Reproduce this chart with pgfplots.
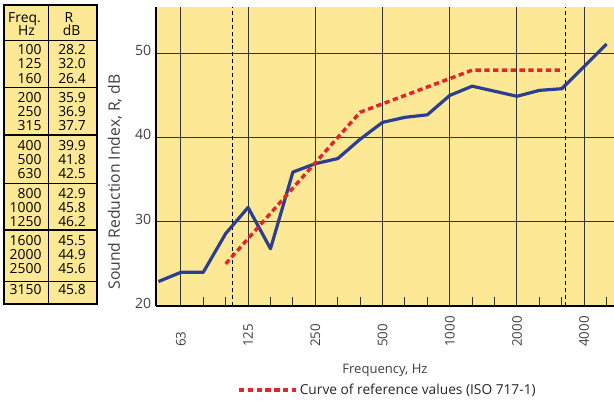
\documentclass[border=0pt]{standalone}
\usepackage{fontspec}
\setmainfont{Open Sans}
\usepackage{pgfplots}
\pgfplotsset{compat=1.18}

\definecolor{panel}{HTML}{FDE995}
\definecolor{rline}{HTML}{2B3E90}
\definecolor{refred}{HTML}{E0262B}
\definecolor{gridc}{HTML}{333333}

% third-octave bands as index: 50 Hz = 0, 63 Hz = 1, ... 5000 Hz = 20
\pgfplotstableread{
idx R
0  22.9
1  24.0
2  24.0
3  28.6
4  31.7
5  26.8
6  35.9
7  36.9
8  37.5
9  39.8
10 41.8
11 42.4
12 42.7
13 45.0
14 46.1
15 45.5
16 44.9
17 45.6
18 45.8
20 51.1
}\measured

\pgfplotstableread{
idx R
3  25
4  28
5  31
6  34
7  37
8  40
9  43
10 44
11 45
12 46
13 47
14 48
15 48
16 48
17 48
18 48
}\reference

\begin{document}
\begin{tikzpicture}

% frequency table on the left, drawn in pixel units
\begin{scope}[x=0.75pt,y=-0.75pt,yshift=301.5pt,font=\fontsize{10.4}{12}\selectfont]
  \fill[panel] (4,5) rectangle (97,304);
  \draw[line width=0.8pt] (4,5) rectangle (97,304);
  \draw[line width=0.8pt] (48.3,5) -- (48.3,304);
  \foreach \yy in {40.7,87.3,135,183.3,230,281.7}
    \draw[line width=0.8pt] (4,\yy) -- (97,\yy);
  \node[anchor=base,inner sep=0pt] at (24.5,23) {Freq.};
  \node[anchor=base,inner sep=0pt] at (26.5,36) {Hz};
  \node[anchor=base,inner sep=0pt] at (69,23) {R};
  \node[anchor=base,inner sep=0pt] at (71.5,36) {dB};
  \foreach \f/\r/\yy in {100/28.2/55,125/32.0/69,160/26.4/83.3,
      200/35.9/102.3,250/36.9/116.7,315/37.7/131,
      400/39.9/150.7,500/41.8/165,630/42.5/179,
      800/42.9/198.3,1000/45.8/212.3,1250/46.2/226.7,
      1600/45.5/246,2000/44.9/260,2500/45.6/273.3,
      3150/45.8/294.3}{
    \node[anchor=base east,inner sep=0pt] at (41.7,\yy) {\f};
    \node[anchor=base east,inner sep=0pt] at (86,\yy) {\r};
  }
\end{scope}

\begin{axis}[
  at={(117pt,72pt)}, anchor=south west,
  scale only axis, width=343.5pt, height=224.25pt,
  xmin=-0.11, xmax=20.33, ymin=20, ymax=55.5,
  axis lines*=left,
  axis line style={line width=1.6pt, black},
  axis background/.style={fill=panel},
  tick align=inside,
  xtick={1,4,7,10,13,16,19},
  xticklabels={63,125,250,500,1000,2000,4000},
  minor xtick={2,3,5,6,8,9,11,12,14,15,17,18,20},
  major tick length=6.75pt, minor tick length=6.75pt,
  xtick style={gridc, line width=0.75pt},
  ytick={20,30,40,50},
  ytick style={draw=none},
  xmajorgrids, ymajorgrids,
  grid style={gridc, line width=0.75pt},
  /pgf/number format/assume math mode=true,
  tick label style={font=\fontsize{10}{12}\selectfont, text=black!75},
  xticklabel style={yshift=-30.75pt, rotate=90, anchor=west, inner sep=0pt},
  yticklabel style={yshift=2pt, font=\fontsize{10.6}{12}\selectfont},
  xlabel={Frequency, Hz},
  xlabel style={at={(axis description cs:0.5,0)}, anchor=center, yshift=-48pt,
    font=\fontsize{9.8}{12}\selectfont, text=black!75},
  ylabel={Sound Reduction Index, R, dB},
  ylabel style={at={(axis description cs:-0.0895,0.415)}, anchor=center,
    font=\fontsize{11.8}{12}\selectfont, text=black!75},
  legend style={at={(axis description cs:0.177,-0.281)}, anchor=west,
    draw=none, fill=none, inner sep=0pt,
    font=\fontsize{10.3}{12}\selectfont,
    nodes={inner sep=1.5pt, text=black!85}},
  legend image code/.code={\draw[#1] (0pt,0pt) -- (42.75pt,0pt);},
]
  \addplot[black, line width=0.6pt, dash pattern=on 3pt off 2.2pt, forget plot]
    coordinates {(3.3,20) (3.3,55.5)};
  \addplot[black, line width=0.6pt, dash pattern=on 3pt off 2.2pt, forget plot]
    coordinates {(18.15,20) (18.15,55.5)};
  \addplot[rline, line width=2.4pt, line join=round, forget plot]
    table[x=idx, y=R] {\measured};
  \addplot[refred, line width=2.6pt, dash pattern=on 4pt off 2.6pt]
    table[x=idx, y=R] {\reference};
  \addlegendentry{Curve of reference values (ISO 717-1)}
\end{axis}

\pgfresetboundingbox
\path[use as bounding box] (0,0) rectangle (460.5pt,301.5pt);
\end{tikzpicture}
\end{document}
